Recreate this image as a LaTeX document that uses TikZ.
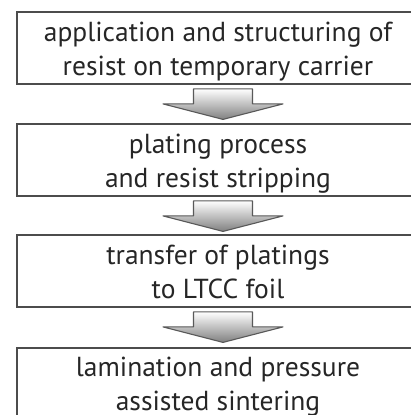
\documentclass[tikz,border=0pt]{standalone}
\usepackage{fontspec}
\setmainfont{PT Sans}
\usetikzlibrary{calc}
\begin{document}
\begin{tikzpicture}[x=1pt, y=-1pt,
  every node/.style={font=\fontsize{27.5}{34}\selectfont},
  stepbox/.style={draw=black!70, line width=1.8pt, minimum width=402pt,
    minimum height=72pt, align=center, inner sep=0pt, text=black!85,
    text height=61pt, text depth=6pt},
  flowarrow/.style={draw=black!65, line width=1.1pt, top color=white,
    bottom color=black!50, line join=round}]
  \useasboundingbox (0,0) rectangle (410,415);
  % Process steps
  \node[stepbox] (b1) at (218,48) {application and structuring of\\resist on temporary carrier};
  \node[stepbox] (b2) at (218,160) {plating process\\and resist stripping};
  \node[stepbox] (b3) at (218,271) {transfer of platings\\to LTCC foil};
  \node[stepbox, text depth=9pt] (b4) at (218,384) {lamination and pressure\\assisted sintering};
  % Block arrows between the steps
  \foreach \a/\b in {b1/b2, b2/b3, b3/b4} {
    \coordinate (t\b) at ($(\a.south)+(5,0)$);
    \draw[flowarrow] ($(t\b)+(-29.5,4)$) -- ++(59,0) -- ++(0,15) -- ++(30.5,0)
      -- ($(t\b)+(0,34.5)$) -- ($(t\b)+(-60,19)$) -- ++(30.5,0) -- cycle;
  }
\end{tikzpicture}
\end{document}
